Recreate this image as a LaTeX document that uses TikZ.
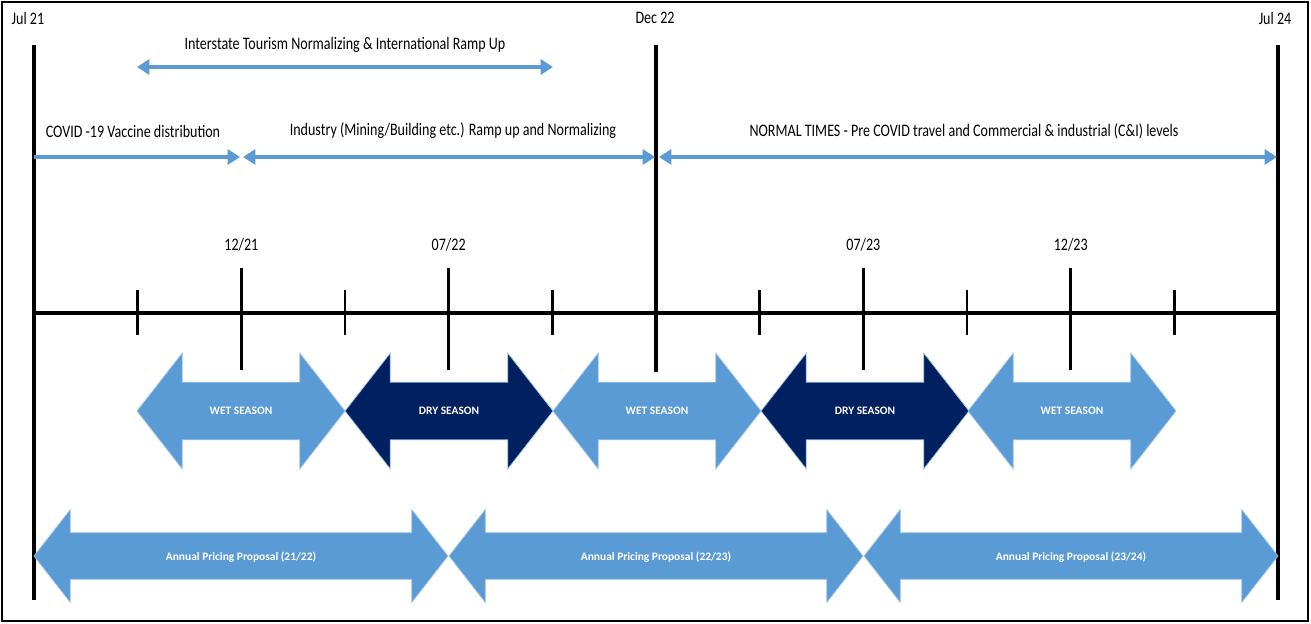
\documentclass[tikz,border=0pt]{standalone}
\usepackage{fontspec}
\setmainfont{Carlito}
\usetikzlibrary{arrows.meta,shapes.arrows,calc}
\definecolor{lite}{HTML}{5B9BD5}
\definecolor{navy}{HTML}{002060}
\newcommand{\narrow}[1]{\scalebox{0.8}[1]{#1}}

\begin{document}
\begin{tikzpicture}[x=0.02cm,y=-0.02cm,
  span/.style={lite,line width=2.2pt,{Triangle[length=7pt,width=8.5pt]}-{Triangle[length=7pt,width=8.5pt]}},
  season/.style={double arrow,double arrow tip angle=104,double arrow head extend=0.58cm,
    minimum height=4.16cm,text height=4.5pt,text depth=0pt,inner xsep=0pt,inner ysep=0.49cm,
    text=white,draw=lite!60!white,font=\fontsize{6.5}{7}\selectfont\bfseries},
  annual/.style={double arrow,double arrow tip angle=104,double arrow head extend=0.46cm,
    minimum height=8.28cm,text height=5pt,text depth=0pt,inner xsep=0pt,inner ysep=0.372cm,
    text=white,fill=lite,draw=lite!60!white,font=\fontsize{6.5}{7}\selectfont\bfseries},
  lbl/.style={font=\fontsize{10}{12}\selectfont,inner sep=0pt}]
\useasboundingbox (0,0) rectangle (1311,624);
\draw[line width=1.5pt] (2,2) rectangle (1308,621);

% tick positions along the axis
\foreach \i in {0,...,12}
  \coordinate (t\i) at ({34+\i*103.67},313);

\draw[line width=2.4pt] (t0) -- (t12);
\foreach \i in {1,3,5,7,9,11}
  \draw[line width=1.6pt] (t\i) ++(0,-23) -- ++(0,45);
\foreach \i/\d in {2/12\slash21,4/07\slash22,8/07\slash23,10/12\slash23}{
  \draw[line width=2pt] (t\i) ++(0,-45) -- ++(0,102);
  \node[lbl] (d\i) at ($(t\i)+(0,-68)$) {\narrow{\d}};
}
\draw[line width=2pt] (t0) ++(0,-268) -- ++(0,555);
\draw[line width=2pt] (t6) ++(0,-268) -- ++(0,327);
\draw[line width=2pt] (t12) ++(0,-268) -- ++(0,555);

\node[lbl] (jul21) at (28,18) {\narrow{Jul 21}};
\node[lbl] (dec22) at (655,18) {\narrow{Dec 22}};
\node[lbl] (jul24) at (1275,18) {\narrow{Jul 24}};

% phases
\coordinate (i0) at (137,67);
\coordinate (i1) at (553,67);
\coordinate (p0) at (34,157);
\coordinate (p1) at (240,157);
\coordinate (p2) at (243,157);
\coordinate (p3) at (655,157);
\coordinate (p4) at (659,157);
\coordinate (p5) at (1277,157);
\draw[span] (i0) -- (i1);
\draw[lite,line width=2.2pt,-{Triangle[length=7pt,width=8.5pt]}] (p0) -- (p1);
\draw[span] (p2) -- (p3);
\draw[span] (p4) -- (p5);
\node[lbl] (tour) at (345,45) {\narrow{Interstate Tourism Normalizing \& International Ramp Up}};
\node[lbl] (vacc) at (133,131) {\narrow{COVID -19 Vaccine distribution}};
\node[lbl] (indu) at (453,131) {\narrow{Industry (Mining/Building etc.) Ramp up and Normalizing}};
\node[lbl] (norm) at (964,131) {\narrow{NORMAL TIMES - Pre COVID travel and Commercial \& industrial (C\&I) levels}};

% seasons
\node[season,fill=lite] (s1) at (241,411) {WET SEASON};
\node[season,fill=navy] (s2) at (449,411) {DRY SEASON};
\node[season,fill=lite] (s3) at (657,411) {WET SEASON};
\node[season,fill=navy] (s4) at (865,411) {DRY SEASON};
\node[season,fill=lite] (s5) at (1072,411) {WET SEASON};

% pricing
\node[annual] (a1) at (241,556) {Annual Pricing Proposal (21/22)};
\node[annual] (a2) at (656,556) {Annual Pricing Proposal (22/23)};
\node[annual] (a3) at (1071,556) {Annual Pricing Proposal (23/24)};
\end{tikzpicture}
\end{document}
